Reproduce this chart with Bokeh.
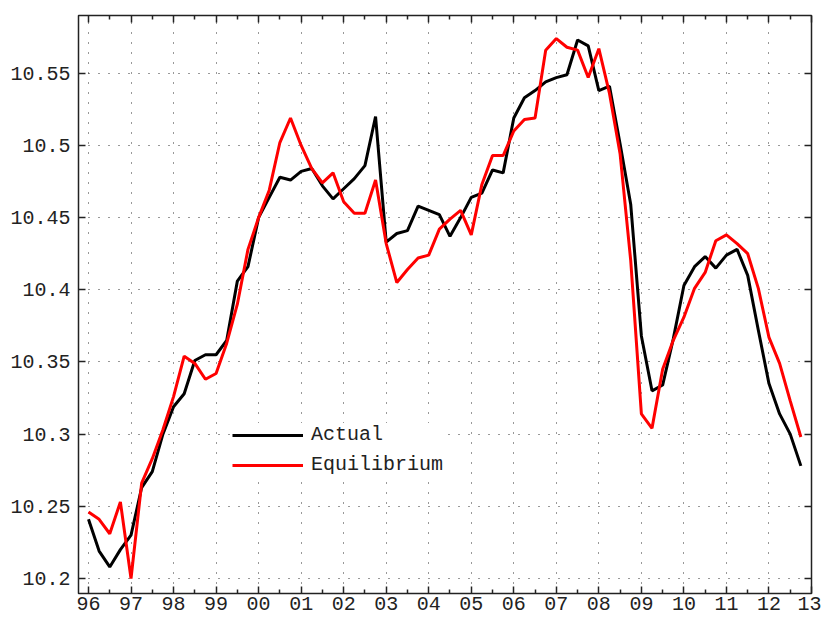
from bokeh.plotting import figure
from bokeh.models import FixedTicker, LinearAxis, Legend, LegendItem, Range1d
from bokeh.embed import file_html
from bokeh.resources import INLINE

# Quarterly data, 1996Q1 .. 2012Q4
first_year = 1996
actual = [10.241, 10.219, 10.208, 10.220, 10.230, 10.263, 10.274, 10.300,
          10.319, 10.328, 10.351, 10.355, 10.355, 10.365, 10.406, 10.416,
          10.450, 10.464, 10.478, 10.476, 10.482, 10.484, 10.472, 10.463,
          10.470, 10.477, 10.486, 10.520, 10.433, 10.439, 10.441, 10.458,
          10.455, 10.452, 10.437, 10.450, 10.464, 10.467, 10.483, 10.481,
          10.519, 10.533, 10.538, 10.544, 10.547, 10.549, 10.573, 10.569,
          10.538, 10.541, 10.501, 10.459, 10.368, 10.330, 10.334, 10.366,
          10.403, 10.416, 10.423, 10.415, 10.424, 10.428, 10.410, 10.372,
          10.335, 10.314, 10.300, 10.278]
equilibrium = [10.246, 10.241, 10.231, 10.253, 10.200, 10.266, 10.283, 10.303,
               10.326, 10.354, 10.349, 10.338, 10.342, 10.363, 10.390, 10.428,
               10.450, 10.469, 10.502, 10.519, 10.500, 10.484, 10.474, 10.481,
               10.461, 10.453, 10.453, 10.476, 10.432, 10.405, 10.414, 10.422,
               10.424, 10.442, 10.449, 10.455, 10.438, 10.473, 10.493, 10.493,
               10.510, 10.518, 10.519, 10.566, 10.574, 10.568, 10.566, 10.547,
               10.567, 10.536, 10.494, 10.420, 10.314, 10.304, 10.345, 10.365,
               10.381, 10.401, 10.412, 10.434, 10.438, 10.432, 10.425, 10.401,
               10.367, 10.349, 10.323, 10.298]
quarters = [first_year + i / 4 for i in range(len(actual))]

x_ticks = list(range(1996, 2014))
x_tick_labels = ["96", "97", "98", "99", "00", "01", "02", "03", "04",
                 "05", "06", "07", "08", "09", "10", "11", "12", "13"]
x_minor_ticks = [y + 0.5 for y in range(1995, 2013)]
y_ticks = [10.2, 10.25, 10.3, 10.35, 10.4, 10.45, 10.5, 10.55]
y_tick_labels = ["10.2", "10.25", "10.3", "10.35", "10.4", "10.45", "10.5", "10.55"]

FONT = "Liberation Mono"
FSIZE = "20px"
TEXT_COLOR = "#222222"

p = figure(width=821, height=617,
           min_border_left=78, min_border_right=10, min_border_top=15, min_border_bottom=24,
           x_range=Range1d(1995.765, 2013.0), y_range=Range1d(10.1896, 10.590),
           output_backend="svg", toolbar_location=None,
           x_axis_location=None, y_axis_location=None)
p.background_fill_color = "white"
p.border_fill_color = "white"
p.outline_line_color = "#222222"
p.outline_line_width = 1.5

xt = FixedTicker(ticks=x_ticks, minor_ticks=x_minor_ticks)
yt = FixedTicker(ticks=y_ticks, minor_ticks=[])


def make_axis(ticker, labels, show_labels, standoff):
    ax = LinearAxis(ticker=ticker)
    ax.axis_line_color = None
    ax.major_tick_in = 7
    ax.major_tick_out = 0
    ax.minor_tick_in = 4
    ax.minor_tick_out = 0
    ax.major_tick_line_color = "#222222"
    ax.minor_tick_line_color = "#222222"
    ax.major_tick_line_width = 1.5
    ax.minor_tick_line_width = 1.5
    ax.major_label_standoff = standoff
    if show_labels:
        ax.major_label_overrides = labels
        ax.major_label_text_font = FONT
        ax.major_label_text_font_size = FSIZE
        ax.major_label_text_color = TEXT_COLOR
    else:
        ax.major_label_text_font_size = "1px"
        ax.major_label_text_color = None
    return ax


x_labels = dict(zip(x_ticks, x_tick_labels))
y_labels = dict(zip(y_ticks, y_tick_labels))

p.add_layout(make_axis(xt, x_labels, True, 3), "below")
p.add_layout(make_axis(xt, None, False, 0), "above")
p.add_layout(make_axis(yt, y_labels, True, 8), "left")
p.add_layout(make_axis(yt, None, False, 0), "right")

p.xgrid.ticker = xt
p.ygrid.ticker = yt
for g in (p.xgrid, p.ygrid):
    g.grid_line_color = "#333333"
    g.grid_line_width = 1
    g.grid_line_dash = "1 9"

r1 = p.line(quarters, actual, line_color="#000000", line_width=3)
r2 = p.line(quarters, equilibrium, line_color="#ff0000", line_width=3)

legend = Legend(items=[LegendItem(label="Actual", renderers=[r1]),
                       LegendItem(label="Equilibrium", renderers=[r2])],
                location=(154, 117))
legend.label_text_font = FONT
legend.label_text_font_size = FSIZE
legend.label_text_color = TEXT_COLOR
legend.glyph_width = 71
legend.glyph_height = 20
legend.label_height = 20
legend.spacing = 7
legend.padding = 10
legend.margin = 0
legend.label_standoff = 8
legend.border_line_color = None
legend.background_fill_color = "white"
legend.background_fill_alpha = 1.0
p.add_layout(legend)

open("out.html", "w").write(file_html(p, INLINE))
